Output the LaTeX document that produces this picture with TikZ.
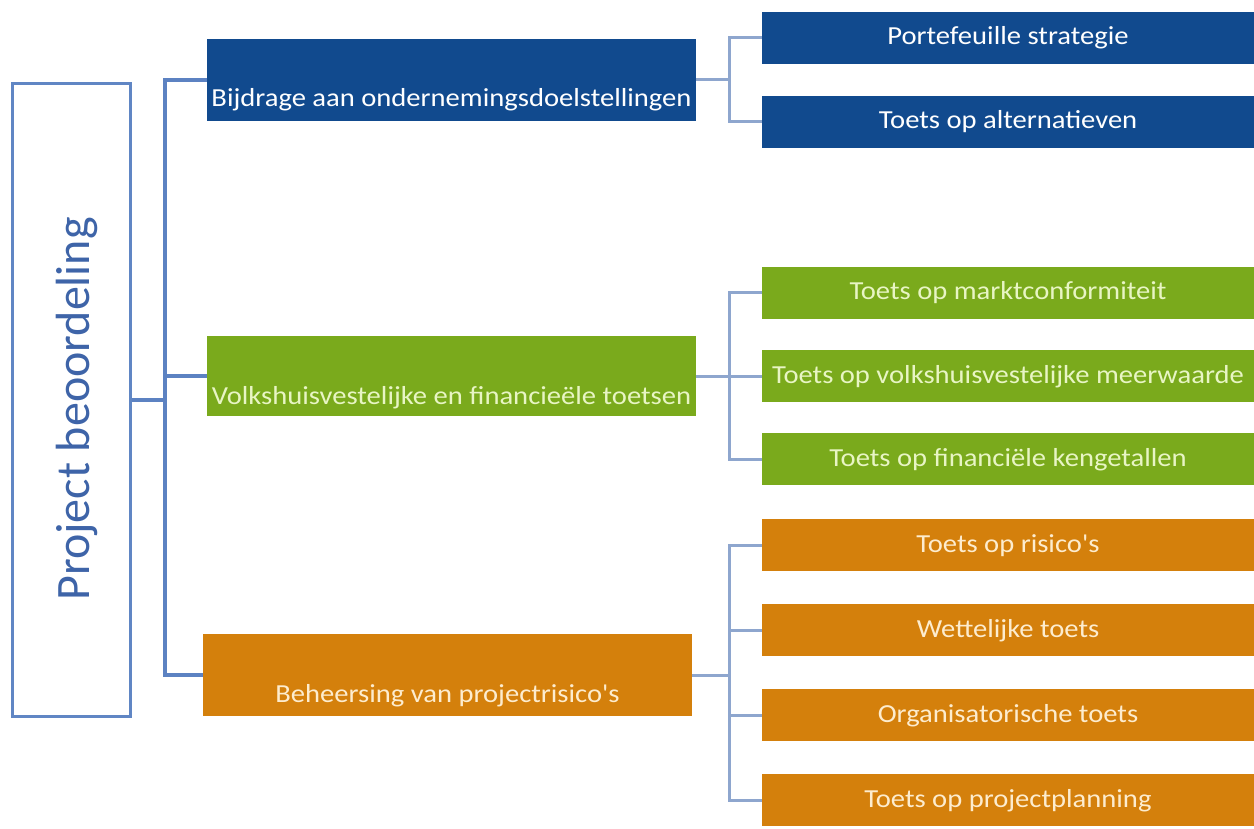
\documentclass[tikz,border=0pt]{standalone}
\usepackage{fontspec}
\setmainfont{Carlito}
\newfontfamily\widefont[FakeStretch=1.1]{Carlito}
\definecolor{dblue}{RGB}{17,74,142}
\definecolor{lgreen}{RGB}{122,170,28}
\definecolor{orng}{RGB}{212,128,12}
\definecolor{rootline}{RGB}{96,134,196}
\definecolor{rootText}{RGB}{62,100,168}
\definecolor{busline}{RGB}{92,130,194}
\definecolor{subline}{RGB}{142,166,206}
\definecolor{gtext}{RGB}{232,245,196}
\definecolor{otext}{RGB}{253,236,206}
\begin{document}
\begin{tikzpicture}[x=1pt,y=-1pt,
  mainbox/.style={draw=none,inner sep=0pt,minimum width=489pt,text height=68pt,text depth=14pt,font=\widefont\fontsize{26}{29}\selectfont},
  subbox/.style={draw=none,inner sep=0pt,minimum width=492pt,text height=33pt,text depth=19pt,font=\widefont\fontsize{26}{29}\selectfont},
  busconn/.style={draw=busline,line width=3.2pt},
  subconn/.style={draw=subline,line width=3pt}]
\useasboundingbox (0,0) rectangle (1254,829);
\fill[white] (0,0) rectangle (1254,829);
% root
\node[draw=rootline,line width=3pt,minimum width=118pt,minimum height=632pt,inner sep=0pt] (root) at (71,400) {};
\node[rotate=90,text=rootText,font=\fontsize{48}{52}\selectfont] (roottext) at (77,409) {Project beoordeling};
% level 1
\node[mainbox,fill=dblue,text=white] (b1) at (451.5,80) {Bijdrage aan ondernemingsdoelstellingen};
\node[mainbox,fill=lgreen,text=gtext,text depth=12pt] (b2) at (451.5,376) {Volkshuisvestelijke en financieële toetsen};
\node[mainbox,fill=orng,text=otext] (b3) at (447.5,675) {Beheersing van projectrisico's};
% level 2
\node[subbox,fill=dblue,text=white] (c1) at (1008,38) {Portefeuille strategie};
\node[subbox,fill=dblue,text=white] (c2) at (1008,122) {Toets op alternatieven};
\node[subbox,fill=lgreen,text=gtext] (g1) at (1008,293) {Toets op marktconformiteit};
\node[subbox,fill=lgreen,text=gtext] (g2) at (1008,376) {Toets op volkshuisvestelijke meerwaarde};
\node[subbox,fill=lgreen,text=gtext] (g3) at (1008,459) {Toets op financiële kengetallen};
\node[subbox,fill=orng,text=otext] (o1) at (1008,545) {Toets op risico's};
\node[subbox,fill=orng,text=otext] (o2) at (1008,630) {Wettelijke toets};
\node[subbox,fill=orng,text=otext] (o3) at (1008,715) {Organisatorische toets};
\node[subbox,fill=orng,text=otext] (o4) at (1008,800) {Toets op projectplanning};
% bus coordinates
\coordinate (busL) at (165,0);
\coordinate (busR) at (729,0);
% left connectors
\draw[busconn] (root.east) -- (root.east -| busL);
\draw[busconn] (b1.west) -- (b1.west -| busL) -- (b3.west -| busL) -- (b3.west);
\draw[busconn] (b2.west) -- (b2.west -| busL);
% right connectors
\draw[subconn] (b1.east) -- (b1.east -| busR);
\draw[subconn] (c1.west) -- (c1.west -| busR) -- (c2.west -| busR) -- (c2.west);
\draw[subconn] (b2.east) -- (b2.east -| busR);
\draw[subconn] (g1.west) -- (g1.west -| busR) -- (g3.west -| busR) -- (g3.west);
\draw[subconn] (g2.west) -- (g2.west -| busR);
\draw[subconn] (b3.east) -- (b3.east -| busR);
\draw[subconn] (o1.west) -- (o1.west -| busR) -- (o4.west -| busR) -- (o4.west);
\draw[subconn] (o2.west) -- (o2.west -| busR);
\draw[subconn] (o3.west) -- (o3.west -| busR);
\end{tikzpicture}
\end{document}
